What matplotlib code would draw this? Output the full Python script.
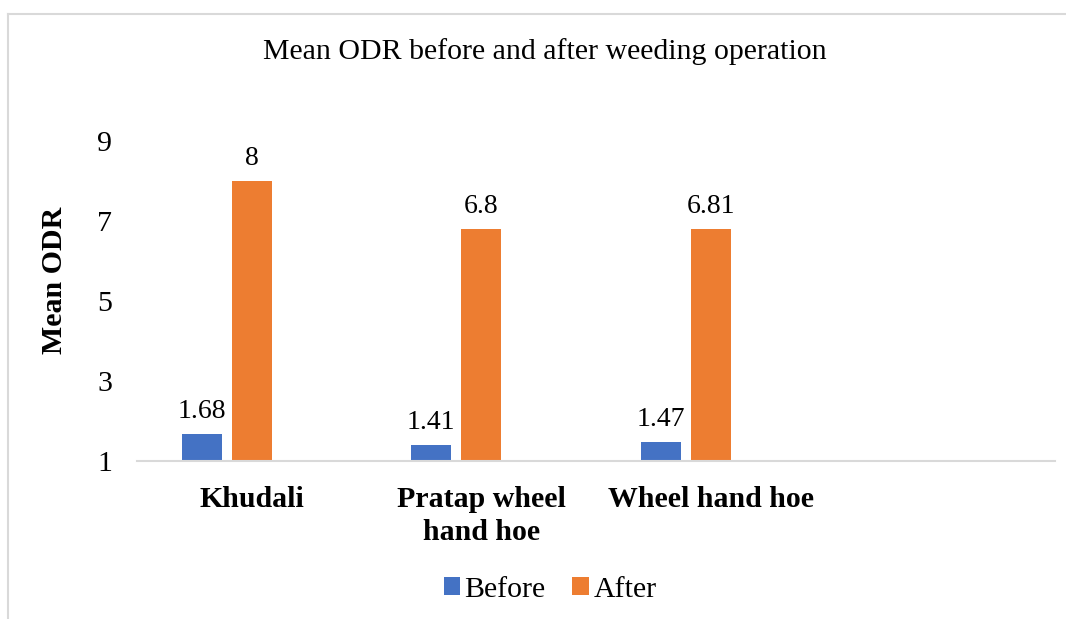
import numpy as np
import matplotlib
matplotlib.use('Agg')
from matplotlib import pyplot as plt
from matplotlib.lines import Line2D

categories = ["Khudali", "Pratap wheel\nhand hoe", "Wheel hand hoe", ""]
before = [1.68, 1.41, 1.47]
after = [8, 6.8, 6.81]
yticks = [1, 3, 5, 7, 9]

plt.rcParams['font.family'] = ['Liberation Serif', 'DejaVu Serif']

fig = plt.figure(figsize=(10.66, 6.19), dpi=100)
ax = fig.add_axes([137 / 1066, (619 - 461) / 619, (1055 - 137) / 1066, (461 - 141) / 619])

x = np.arange(len(categories))
w = 0.174
c_before = '#4472C4'
c_after = '#ED7D31'

b1 = ax.bar(x[:3] - 0.218, np.array(before) - 1, w, bottom=1, color=c_before, label='Before')
b2 = ax.bar(x[:3], np.array(after) - 1, w, bottom=1, color=c_after, label='After')

for xi, v in zip(x[:3] - 0.218, before):
    ax.annotate(f"{v:g}", (xi, v), xytext=(0, 7), textcoords='offset points',
                ha='center', va='bottom', fontsize=20)
for xi, v in zip(x[:3], after):
    ax.annotate(f"{v:g}", (xi, v), xytext=(0, 7), textcoords='offset points',
                ha='center', va='bottom', fontsize=20)

ax.set_xlim(-0.5, 3.5)
ax.set_ylim(1, 9)
ax.set_yticks(yticks)
ax.set_xticks(x)
ax.set_xticklabels(categories, fontsize=21.5, fontweight='bold', linespacing=1.3)
ax.tick_params(axis='both', length=0)
ax.tick_params(axis='y', labelsize=21.5, pad=18)
ax.tick_params(axis='x', pad=18)

for s in ['top', 'right', 'left']:
    ax.spines[s].set_visible(False)
ax.spines['bottom'].set_color('#d9d9d9')
ax.spines['bottom'].set_linewidth(1.5)

ax.set_ylabel("Mean ODR", fontsize=21.5, fontweight='bold')
ax.yaxis.set_label_coords(-69 / 918, 0.566)

fig.text(545 / 1066, 1 - 52 / 619, "Mean ODR before and after weeding operation",
         ha='center', va='center', fontsize=21.5)

fig.legend(handles=[b1, b2], loc='center', bbox_to_anchor=(550 / 1066, 1 - 590 / 619),
           ncol=2, frameon=False, fontsize=21.5, handlelength=0.55, handleheight=0.55,
           handletextpad=0.15, columnspacing=0.9)

# outer chart border (top and left edges visible)
fig.add_artist(Line2D([8 / 1066, 1065 / 1066], [1 - 14 / 619, 1 - 14 / 619],
                      transform=fig.transFigure, color='#d9d9d9', lw=1.5))
fig.add_artist(Line2D([8 / 1066, 8 / 1066], [1 - 14 / 619, 0], transform=fig.transFigure,
                      color='#d9d9d9', lw=1.5))

fig.savefig("out.png", dpi=100)
